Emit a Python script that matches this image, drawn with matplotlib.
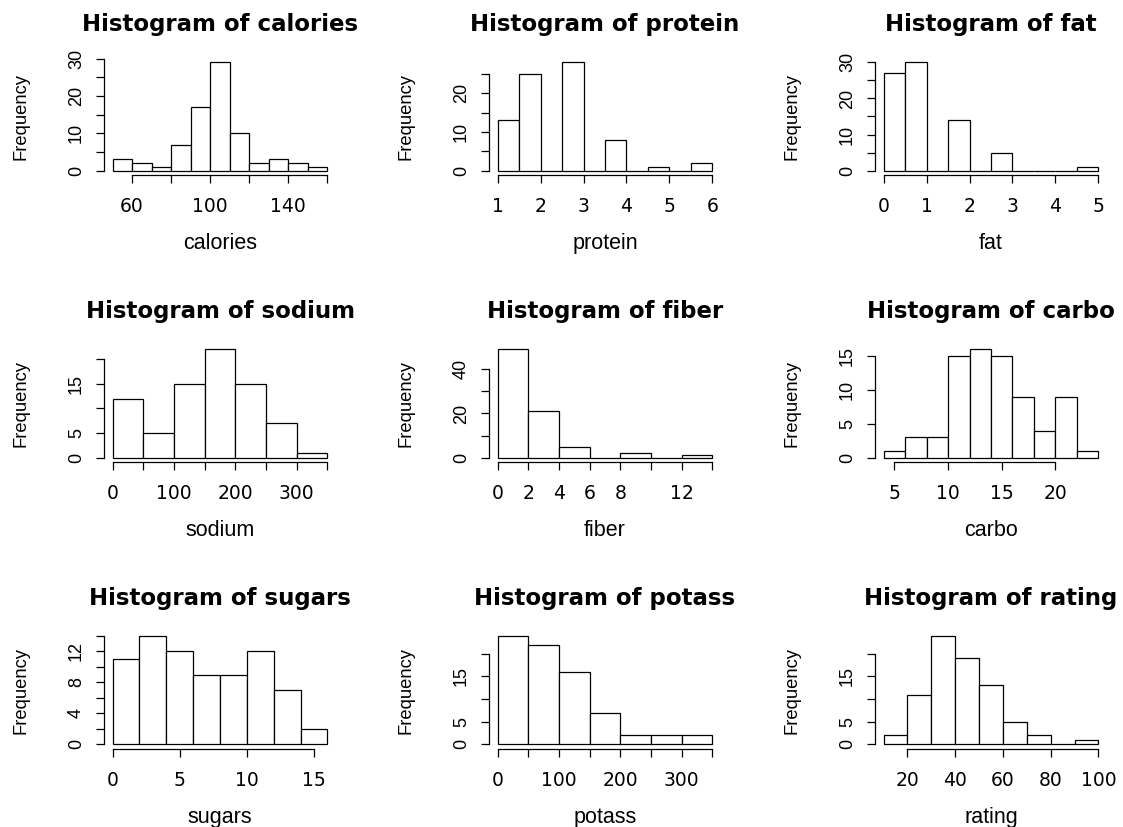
from matplotlib import pyplot as plt

# bin breaks and counts, one set per variable
calories_breaks = [50, 60, 70, 80, 90, 100, 110, 120, 130, 140, 150, 160]
calories_counts = [3, 2, 1, 7, 17, 29, 10, 2, 3, 2, 1]
protein_breaks = [1, 1.5, 2, 2.5, 3, 3.5, 4, 4.5, 5, 5.5, 6]
protein_counts = [13, 25, 0, 28, 0, 8, 0, 1, 0, 2]
fat_breaks = [0, 0.5, 1, 1.5, 2, 2.5, 3, 3.5, 4, 4.5, 5]
fat_counts = [27, 30, 0, 14, 0, 5, 0, 0, 0, 1]
sodium_breaks = [0, 50, 100, 150, 200, 250, 300, 350]
sodium_counts = [12, 5, 15, 22, 15, 7, 1]
fiber_breaks = [0, 2, 4, 6, 8, 10, 12, 14]
fiber_counts = [49, 21, 5, 0, 2, 0, 1]
carbo_breaks = [4, 6, 8, 10, 12, 14, 16, 18, 20, 22, 24]
carbo_counts = [1, 3, 3, 15, 16, 15, 9, 4, 9, 1]
sugars_breaks = [0, 2, 4, 6, 8, 10, 12, 14, 16]
sugars_counts = [11, 14, 12, 9, 9, 12, 7, 2]
potass_breaks = [0, 50, 100, 150, 200, 250, 300, 350]
potass_counts = [24, 22, 16, 7, 2, 2, 2]
rating_breaks = [10, 20, 30, 40, 50, 60, 70, 80, 90, 100]
rating_counts = [2, 11, 24, 19, 13, 5, 2, 0, 1]

# axis ticks (empty label = tick drawn but label dropped, like R does)
calories_xticks = [60, 80, 100, 120, 140, 160]
calories_xlabels = ['60', '', '100', '', '140', '']
calories_yticks = [0, 5, 10, 15, 20, 25, 30]
calories_ylabels = ['0', '', '10', '', '20', '', '30']
protein_xticks = [1, 2, 3, 4, 5, 6]
protein_xlabels = ['1', '2', '3', '4', '5', '6']
protein_yticks = [0, 5, 10, 15, 20, 25]
protein_ylabels = ['0', '', '10', '', '20', '']
fat_xticks = [0, 1, 2, 3, 4, 5]
fat_xlabels = ['0', '1', '2', '3', '4', '5']
fat_yticks = [0, 5, 10, 15, 20, 25, 30]
fat_ylabels = ['0', '', '10', '', '20', '', '30']
sodium_xticks = [0, 50, 100, 150, 200, 250, 300, 350]
sodium_xlabels = ['0', '', '100', '', '200', '', '300', '']
sodium_yticks = [0, 5, 10, 15, 20]
sodium_ylabels = ['0', '5', '', '15', '']
fiber_xticks = [0, 2, 4, 6, 8, 10, 12, 14]
fiber_xlabels = ['0', '2', '4', '6', '8', '', '12', '']
fiber_yticks = [0, 10, 20, 30, 40]
fiber_ylabels = ['0', '', '20', '', '40']
carbo_xticks = [5, 10, 15, 20]
carbo_xlabels = ['5', '10', '15', '20']
carbo_yticks = [0, 5, 10, 15]
carbo_ylabels = ['0', '5', '10', '15']
sugars_xticks = [0, 5, 10, 15]
sugars_xlabels = ['0', '5', '10', '15']
sugars_yticks = [0, 2, 4, 6, 8, 10, 12, 14]
sugars_ylabels = ['0', '', '4', '', '8', '', '12', '']
potass_xticks = [0, 50, 100, 150, 200, 250, 300, 350]
potass_xlabels = ['0', '', '100', '', '200', '', '300', '']
potass_yticks = [0, 5, 10, 15, 20]
potass_ylabels = ['0', '5', '', '15', '']
rating_xticks = [20, 40, 60, 80, 100]
rating_xlabels = ['20', '40', '60', '80', '100']
rating_yticks = [0, 5, 10, 15, 20]
rating_ylabels = ['0', '5', '', '15', '']

W, H = 1123, 827
col_left = [104, 489, 875]
row_bottom = [175, 462, 748.5]
pw, ph = 232, 117
lw = 0.9


def draw_hist(ax, name, breaks, counts, xticks, xlabels, yticks, ylabels):
    lefts = breaks[:-1]
    widths = [b - a for a, b in zip(breaks[:-1], breaks[1:])]
    ax.bar(lefts, counts, width=widths, align='edge', color='white',
           edgecolor='black', linewidth=lw)
    span = breaks[-1] - breaks[0]
    ax.set_xlim(breaks[0] - 0.04 * span, breaks[-1] + 0.04 * span)
    top = max(counts)
    ax.set_ylim(-0.04 * top, 1.04 * top)

    for s in ['top', 'right']:
        ax.spines[s].set_visible(False)
    ax.spines['left'].set_bounds(yticks[0], yticks[-1])
    ax.spines['bottom'].set_bounds(xticks[0], xticks[-1])
    ax.spines['left'].set_linewidth(lw)
    ax.spines['bottom'].set_linewidth(lw)

    ax.set_xticks(xticks)
    ax.set_xticklabels(xlabels, fontsize=13.5, family='DejaVu Sans')
    ax.set_yticks(yticks)
    ax.set_yticklabels(ylabels, fontsize=13, family='Liberation Sans',
                       rotation=90, va='center')
    ax.tick_params(axis='both', direction='out', length=5.6, width=lw,
                   colors='black')
    ax.tick_params(axis='x', pad=10.4)
    ax.tick_params(axis='y', pad=8)

    ax.text(0.5, 1 + 27 / ph, 'Histogram of ' + name, transform=ax.transAxes,
            ha='center', va='baseline', fontsize=16.5, fontweight='bold',
            family='DejaVu Sans')
    ax.text(0.5, -74 / ph, name, transform=ax.transAxes, ha='center',
            va='baseline', fontsize=15.5, family='Liberation Sans')
    ax.text(-83 / pw, 0.5, 'Frequency', transform=ax.transAxes, ha='center',
            va='center', rotation=90, fontsize=13.2, family='Liberation Sans')


panels = [
    ('calories', calories_breaks, calories_counts, calories_xticks, calories_xlabels, calories_yticks, calories_ylabels),
    ('protein', protein_breaks, protein_counts, protein_xticks, protein_xlabels, protein_yticks, protein_ylabels),
    ('fat', fat_breaks, fat_counts, fat_xticks, fat_xlabels, fat_yticks, fat_ylabels),
    ('sodium', sodium_breaks, sodium_counts, sodium_xticks, sodium_xlabels, sodium_yticks, sodium_ylabels),
    ('fiber', fiber_breaks, fiber_counts, fiber_xticks, fiber_xlabels, fiber_yticks, fiber_ylabels),
    ('carbo', carbo_breaks, carbo_counts, carbo_xticks, carbo_xlabels, carbo_yticks, carbo_ylabels),
    ('sugars', sugars_breaks, sugars_counts, sugars_xticks, sugars_xlabels, sugars_yticks, sugars_ylabels),
    ('potass', potass_breaks, potass_counts, potass_xticks, potass_xlabels, potass_yticks, potass_ylabels),
    ('rating', rating_breaks, rating_counts, rating_xticks, rating_xlabels, rating_yticks, rating_ylabels),
]

fig = plt.figure(figsize=(W / 100, H / 100), dpi=100)
for i, p in enumerate(panels):
    r, c = i // 3, i % 3
    ax = fig.add_axes([col_left[c] / W, (H - row_bottom[r]) / H, pw / W, ph / H])
    draw_hist(ax, *p)

fig.savefig('out.png', dpi=100)
